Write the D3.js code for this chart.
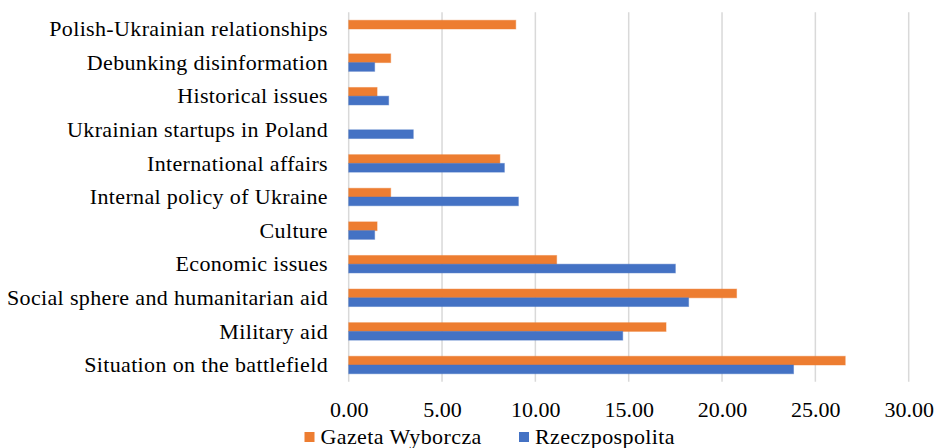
<!DOCTYPE html>
<html><head><meta charset="utf-8">
<script src="https://cdn.jsdelivr.net/npm/d3@7"></script>
<style>body{margin:0;background:#fff}svg{display:block}svg text{font-family:"Times New Roman","Liberation Serif",Tinos,"DejaVu Serif",serif !important;fill:#000}</style>
</head><body><svg id="c" width="940" height="448"></svg>
<script>
const categories = ["Polish-Ukrainian relationships","Debunking disinformation","Historical issues","Ukrainian startups in Poland","International affairs","Internal policy of Ukraine","Culture","Economic issues","Social sphere and humanitarian aid","Military aid","Situation on the battlefield"];
const gazeta = [8.95,2.25,1.52,0,8.10,2.25,1.52,11.14,20.78,17.0,26.6];
const rzecz  = [0,1.39,2.14,3.46,8.34,9.09,1.39,17.5,18.21,14.68,23.83];
const seriesNames = ["Gazeta Wyborcza","Rzeczpospolita"];
const colors = ["#ED7D31","#4472C4"];
const xTicks = [0,5,10,15,20,25,30];

const svg = d3.select("#c");
const x = d3.scaleLinear().domain([0,30]).range([348.7,908.7]);
const y = d3.scaleBand().domain(categories).range([12.2,381.8]).paddingInner(0.48).paddingOuter(0.24);
const sub = d3.scaleBand().domain([0,1]).range([0,y.bandwidth()]);

svg.append("g").selectAll("line").data(xTicks).join("line")
  .attr("x1",d=>x(d)).attr("x2",d=>x(d)).attr("y1",12.2).attr("y2",381.8)
  .attr("stroke","#d9d9d9").attr("stroke-width",1.5);

const data = [gazeta, rzecz];
data.forEach((vals,si)=>{
  svg.append("g").selectAll("rect").data(categories).join("rect")
    .attr("x",x(0)).attr("y",(c)=>y(c)+sub(si))
    .attr("width",(c,i)=>Math.max(0,x(vals[i])-x(0))).attr("height",sub.bandwidth())
    .attr("fill",colors[si]).attr("stroke",colors[si]).attr("stroke-opacity",0.45).attr("stroke-width",1);
});

const yAxis = d3.axisLeft(y).tickSize(0).tickPadding(0);
const ga = svg.append("g").attr("transform",`translate(328,0)`).call(yAxis);
ga.select(".domain").remove();
ga.selectAll("text").attr("font-size","22px").attr("dy","0.33em").attr("letter-spacing","0.35px");

const xAxis = d3.axisBottom(x).tickValues(xTicks).tickFormat(d3.format(".2f")).tickSize(0).tickPadding(0);
const gx = svg.append("g").attr("transform","translate(0,400)").call(xAxis);
gx.select(".domain").remove();
gx.selectAll("text").attr("font-size","22px").attr("dy","0.79em");

const legX = [304.5, 519];
seriesNames.forEach((n,i)=>{
  svg.append("rect").attr("x",legX[i]).attr("y",432).attr("width",10).attr("height",10).attr("fill",colors[i]);
  svg.append("text").attr("x",legX[i]+16).attr("y",444).attr("font-size","22px").attr("letter-spacing","0.4px").text(n);
});
</script></body></html>
